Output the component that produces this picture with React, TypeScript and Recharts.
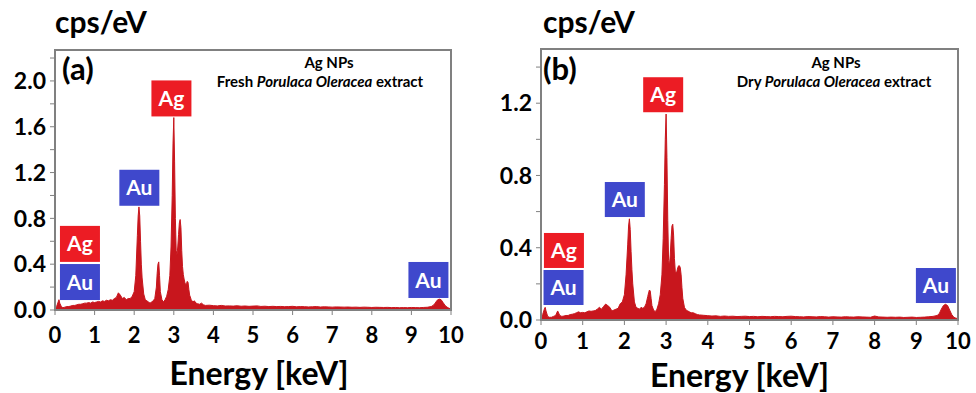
import React from "react";
import { AreaChart, Area, XAxis, YAxis, ReferenceArea, ReferenceDot } from "recharts";

// shared energy grid (keV), denser around the Au M / Ag L lines
const energy = [
  0, 0.04, 0.08, 0.1, 0.12, 0.16, 0.2, 0.25, 0.3, 0.35,
  0.4, 0.45, 0.5, 0.55, 0.6, 0.65, 0.7, 0.75, 0.8, 0.85,
  0.9, 0.95, 1.0, 1.05, 1.1, 1.15, 1.2, 1.25, 1.3, 1.35,
  1.4, 1.45, 1.5, 1.55, 1.6, 1.65, 1.7, 1.75, 1.8, 1.85,
  1.9, 1.95, 2.0, 2.04, 2.08, 2.1, 2.12, 2.14, 2.16, 2.18,
  2.2, 2.24, 2.28, 2.32, 2.36, 2.4, 2.44, 2.48, 2.52, 2.56,
  2.58, 2.6, 2.62, 2.64, 2.66, 2.7, 2.74, 2.78, 2.82, 2.86,
  2.9, 2.93, 2.96, 2.98, 3.0, 3.02, 3.04, 3.06, 3.08, 3.1,
  3.12, 3.14, 3.16, 3.18, 3.2, 3.22, 3.24, 3.26, 3.28, 3.3,
  3.32, 3.34, 3.36, 3.38, 3.4, 3.44, 3.48, 3.52, 3.56, 3.6,
  3.65, 3.7, 3.75, 3.8, 3.9, 4.0, 4.1, 4.2, 4.3, 4.4,
  4.5, 4.6, 4.7, 4.8, 4.9, 5.0, 5.1, 5.2, 5.3, 5.4,
  5.5, 5.6, 5.7, 5.8, 5.9, 6.0, 6.1, 6.2, 6.3, 6.4,
  6.5, 6.6, 6.7, 6.8, 6.9, 7.0, 7.1, 7.2, 7.3, 7.4,
  7.5, 7.6, 7.7, 7.8, 7.9, 8.0, 8.1, 8.2, 8.3, 8.4,
  8.5, 8.6, 8.7, 8.8, 8.9, 9.0, 9.1, 9.2, 9.3, 9.4,
  9.5, 9.55, 9.6, 9.65, 9.7, 9.75, 9.8, 9.85, 9.9, 9.95,
  10.0,
];

// (a) fresh extract
const cpsA = [
  0, 0.03, 0.07, 0.09, 0.06, 0.03, 0.02, 0.025, 0.03, 0.03,
  0.035, 0.04, 0.04, 0.045, 0.05, 0.05, 0.055, 0.06, 0.06, 0.065,
  0.06, 0.07, 0.065, 0.07, 0.075, 0.07, 0.08, 0.075, 0.085, 0.08,
  0.09, 0.085, 0.1, 0.11, 0.15, 0.13, 0.1, 0.11, 0.09, 0.1,
  0.1, 0.12, 0.16, 0.3, 0.65, 0.82, 0.9, 0.82, 0.6, 0.4,
  0.28, 0.14, 0.09, 0.08, 0.07, 0.06, 0.07, 0.08, 0.1, 0.2,
  0.32, 0.4, 0.42, 0.3, 0.16, 0.09, 0.07, 0.09, 0.12, 0.18,
  0.3, 0.55, 1.0, 1.45, 1.68, 1.3, 0.8, 0.52, 0.48, 0.55,
  0.66, 0.76, 0.79, 0.72, 0.52, 0.38, 0.31, 0.27, 0.24, 0.22,
  0.23, 0.25, 0.24, 0.18, 0.13, 0.09, 0.07, 0.08, 0.06, 0.055,
  0.05, 0.06, 0.045, 0.04, 0.042, 0.038, 0.036, 0.04, 0.035, 0.036,
  0.034, 0.037, 0.033, 0.035, 0.032, 0.034, 0.036, 0.031, 0.033, 0.03,
  0.032, 0.03, 0.031, 0.029, 0.03, 0.032, 0.028, 0.03, 0.029, 0.027,
  0.028, 0.03, 0.026, 0.028, 0.027, 0.025, 0.027, 0.026, 0.025, 0.026,
  0.024, 0.025, 0.023, 0.025, 0.024, 0.022, 0.024, 0.023, 0.022, 0.023,
  0.021, 0.022, 0.02, 0.021, 0.02, 0.022, 0.021, 0.02, 0.022, 0.024,
  0.03, 0.04, 0.06, 0.085, 0.095, 0.09, 0.065, 0.04, 0.025, 0.015,
  0.01,
];

// (b) dry extract
const cpsB = [
  0, 0.03, 0.06, 0.07, 0.05, 0.02, 0.015, 0.015, 0.02, 0.025,
  0.05, 0.025, 0.02, 0.022, 0.025, 0.025, 0.03, 0.032, 0.035, 0.04,
  0.045, 0.04, 0.042, 0.04, 0.045, 0.05, 0.048, 0.05, 0.052, 0.06,
  0.07, 0.06, 0.075, 0.088, 0.08, 0.07, 0.05, 0.055, 0.06, 0.065,
  0.09, 0.1, 0.14, 0.25, 0.42, 0.52, 0.56, 0.5, 0.38, 0.28,
  0.2, 0.1, 0.07, 0.065, 0.06, 0.07, 0.065, 0.07, 0.09, 0.13,
  0.15, 0.166, 0.16, 0.12, 0.08, 0.055, 0.046, 0.06, 0.09, 0.14,
  0.25, 0.45, 0.75, 1.0, 1.14, 0.9, 0.55, 0.33, 0.3, 0.36,
  0.45, 0.52, 0.53, 0.47, 0.34, 0.27, 0.26, 0.27, 0.29, 0.3,
  0.3, 0.29, 0.25, 0.18, 0.12, 0.07, 0.055, 0.05, 0.045, 0.04,
  0.04, 0.035, 0.03, 0.028, 0.026, 0.024, 0.022, 0.023, 0.02, 0.022,
  0.02, 0.021, 0.019, 0.02, 0.021, 0.019, 0.02, 0.018, 0.02, 0.019,
  0.018, 0.02, 0.019, 0.018, 0.02, 0.021, 0.019, 0.018, 0.017, 0.019,
  0.018, 0.017, 0.019, 0.018, 0.016, 0.018, 0.017, 0.016, 0.018, 0.017,
  0.016, 0.018, 0.017, 0.016, 0.015, 0.022, 0.017, 0.016, 0.015, 0.016,
  0.015, 0.016, 0.014, 0.015, 0.016, 0.014, 0.015, 0.016, 0.018, 0.02,
  0.025, 0.035, 0.06, 0.08, 0.087, 0.08, 0.055, 0.03, 0.015, 0.01,
  0.008,
];

const xTicks = [0, 1, 2, 3, 4, 5, 6, 7, 8, 9, 10];
const yTicksA = [0, 0.2, 0.4, 0.6, 0.8, 1.0, 1.2, 1.4, 1.6, 1.8, 2.0, 2.2];
const yTicksB = [0, 0.2, 0.4, 0.6, 0.8, 1.0, 1.2, 1.4];

// element tags: box centre energy, box bottom in cps/eV
const tagsA = [
  { el: "Ag", e: 2.94, v: 1.69 },
  { el: "Au", e: 2.13, v: 0.91 },
  { el: "Ag", e: 0.63, v: 0.42 },
  { el: "Au", e: 0.63, v: 0.087 },
  { el: "Au", e: 9.43, v: 0.105 },
];
const tagsB = [
  { el: "Ag", e: 2.93, v: 1.15 },
  { el: "Au", e: 2.01, v: 0.57 },
  { el: "Ag", e: 0.55, v: 0.288 },
  { el: "Au", e: 0.54, v: 0.083 },
  { el: "Au", e: 9.47, v: 0.094 },
];

const data = energy.map((e, i) => ({ energy: e, a: cpsA[i], b: cpsB[i] }));

const FONT = "Lato, 'Open Sans', sans-serif";
const RED = "#c8161d";
const GREY = "#808080";
const TAG_COLORS: Record<string, string> = { Ag: "#ec1c24", Au: "#3f48cc" };

function YTick(props: any) {
  const { x, y, payload } = props;
  const v = payload.value as number;
  if (Math.round(v * 10) % 4 !== 0) return <g />;
  return (
    <text x={x} y={y} dy="0.36em" textAnchor="end" fontFamily={FONT} fontWeight={700} fontSize={23} fill="#000">
      {v.toFixed(1)}
    </text>
  );
}

function tagShape(el: string, h: number) {
  return (props: any) => {
    const { cx, cy } = props;
    return (
      <g>
        <rect x={cx - 20} y={cy - h} width={40} height={h} fill={TAG_COLORS[el]} />
        <text x={cx} y={cy - h / 2} dy="0.36em" textAnchor="middle" fontFamily={FONT} fontWeight={700} fontSize={21} fill="#fff">
          {el}
        </text>
      </g>
    );
  };
}

function Panel({
  dataKey,
  yMax,
  yTicks,
  tags,
  margin,
  yWidth,
  xHeight,
  tickGap,
  labelOffset,
  labelDx,
}: {
  dataKey: string;
  yMax: number;
  yTicks: number[];
  tags: { el: string; e: number; v: number }[];
  margin: { top: number; right: number; bottom: number; left: number };
  yWidth: number;
  xHeight: number;
  tickGap: number;
  labelOffset: number;
  labelDx: number;
}) {
  return (
    <AreaChart width={dataKey === "a" ? 490 : 486} height={393} data={data} margin={margin}>
      <XAxis
        dataKey="energy"
        type="number"
        domain={[0, 10]}
        ticks={xTicks}
        interval={0}
        allowDataOverflow
        height={xHeight}
        tickSize={5}
        tickMargin={tickGap}
        axisLine={{ stroke: GREY, strokeWidth: 2 }}
        tickLine={{ stroke: GREY }}
        tick={{ fontFamily: FONT, fontWeight: 700, fontSize: 22, fill: "#000" }}
        label={{
          value: "Energy [keV]",
          position: "insideBottom",
          offset: labelOffset,
          dx: labelDx,
          style: { fontFamily: FONT, fontWeight: 700, fontSize: 32, fill: "#000" },
        }}
      />
      <YAxis
        type="number"
        domain={[0, yMax]}
        ticks={yTicks}
        interval={0}
        allowDataOverflow
        width={yWidth}
        tickSize={5}
        tickMargin={4}
        axisLine={{ stroke: GREY, strokeWidth: 2 }}
        tickLine={{ stroke: GREY }}
        tick={<YTick />}
      />
      <Area
        type="linear"
        dataKey={dataKey}
        stroke={RED}
        strokeWidth={1}
        fill={RED}
        fillOpacity={1}
        isAnimationActive={false}
        dot={false}
        activeDot={false}
      />
      <ReferenceArea x1={0} x2={10} y1={0} y2={yMax} fill="none" stroke={GREY} strokeWidth={2} />
      {tags.map((t, i) => (
        <ReferenceDot key={i} x={t.e} y={t.v} r={0} shape={tagShape(t.el, dataKey === "a" ? 36 : 35)} />
      ))}
    </AreaChart>
  );
}

export default function App() {
  const txt = { fontFamily: FONT, fontWeight: 700, fill: "#000" } as const;
  return (
    <div style={{ position: "absolute", left: 0, top: 0, width: 976, height: 393, background: "#fff" }}>
      <div style={{ position: "absolute", left: 0, top: 0 }}>
        <Panel
          dataKey="a"
          yMax={2.27}
          yTicks={yTicksA}
          tags={tagsA}
          margin={{ top: 50, right: 39, bottom: 0, left: 0 }}
          yWidth={55}
          xHeight={83}
          tickGap={12}
          labelOffset={8}
          labelDx={6}
        />
      </div>
      <div style={{ position: "absolute", left: 490, top: 0 }}>
        <Panel
          dataKey="b"
          yMax={1.5}
          yTicks={yTicksB}
          tags={tagsB}
          margin={{ top: 49, right: 18, bottom: 0, left: 0 }}
          yWidth={51}
          xHeight={73}
          tickGap={8}
          labelOffset={6}
          labelDx={-10}
        />
      </div>
      <svg width={976} height={393} style={{ position: "absolute", left: 0, top: 0, pointerEvents: "none" }}>
        <text x={55} y={33} fontSize={30} {...txt}>cps/eV</text>
        <text x={62} y={80} fontSize={31} {...txt}>(a)</text>
        <text x={329} y={68} fontSize={15} textAnchor="middle" {...txt}>Ag NPs</text>
        <text x={320} y={87} fontSize={15} textAnchor="middle" {...txt}>
          Fresh <tspan fontStyle="italic">Porulaca Oleracea</tspan> extract
        </text>
        <text x={543} y={33} fontSize={30} {...txt}>cps/eV</text>
        <text x={543} y={80} fontSize={31} {...txt}>(b)</text>
        <text x={836} y={68} fontSize={15} textAnchor="middle" {...txt}>Ag NPs</text>
        <text x={834} y={87} fontSize={15} textAnchor="middle" {...txt}>
          Dry <tspan fontStyle="italic">Porulaca Oleracea</tspan> extract
        </text>
      </svg>
    </div>
  );
}
